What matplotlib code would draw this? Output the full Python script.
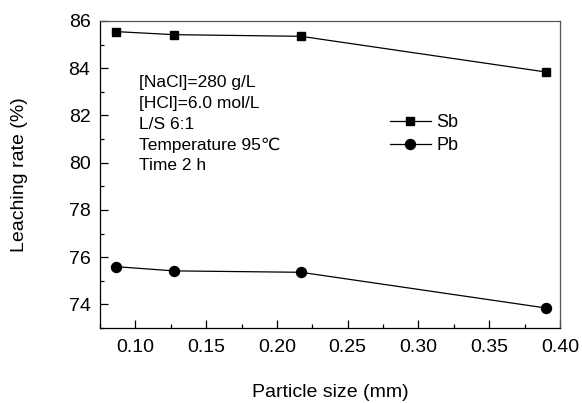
import matplotlib
matplotlib.use("Agg")
import matplotlib.pyplot as plt
from matplotlib.ticker import MultipleLocator

plt.rcParams['font.family'] = ['Liberation Sans', 'DejaVu Sans']

particle_size = [0.086, 0.127, 0.217, 0.390]
sb_rate = [85.55, 85.42, 85.35, 83.84]
pb_rate = [75.60, 75.42, 75.36, 73.85]
conditions = ["[NaCl]=280 g/L", "[HCl]=6.0 mol/L", "L/S 6:1", "Temperature 95\u2103", "Time 2 h"]

fig = plt.figure(figsize=(5.82, 4.03), dpi=100)
ax = fig.add_axes([0.172, 0.186, 0.79, 0.762])

ax.plot(particle_size, sb_rate, color='black', lw=0.9, marker='s', ms=6.2, label='Sb')
ax.plot(particle_size, pb_rate, color='black', lw=0.9, marker='o', ms=7.2, label='Pb')

ax.set_xlim(0.075, 0.40)
ax.set_ylim(73, 86)
ax.xaxis.set_major_locator(MultipleLocator(0.05))
ax.xaxis.set_minor_locator(MultipleLocator(0.025))
ax.yaxis.set_major_locator(MultipleLocator(2))
ax.yaxis.set_minor_locator(MultipleLocator(1))
ax.set_xticks([0.10, 0.15, 0.20, 0.25, 0.30, 0.35, 0.40])
ax.set_xticklabels(["0.10", "0.15", "0.20", "0.25", "0.30", "0.35", "0.40"])
ax.tick_params(which='both', direction='in', top=False, right=False, labelsize=14)
ax.tick_params(which='major', length=6, width=0.9)
ax.tick_params(which='minor', length=3, width=0.9)
ax.tick_params(axis='x', pad=8)
ax.tick_params(axis='y', pad=7)
for s in ax.spines.values():
    s.set_linewidth(0.9)
ax.spines['top'].set_color('#555555')
ax.spines['right'].set_color('#555555')

ax.set_xlabel("Particle size (mm)", fontsize=14, labelpad=20)
ax.set_ylabel("Leaching rate (%)", fontsize=14, labelpad=29)

ax.text(0.085, 0.823, "\n".join(conditions), transform=ax.transAxes, fontsize=12.5,
        va='top', ha='left', linespacing=1.47)

ax.legend(loc='upper left', bbox_to_anchor=(0.61, 0.725), frameon=False, fontsize=13,
          handlelength=2.3, handletextpad=0.3, labelspacing=0.3, borderpad=0)

fig.savefig("out.png", dpi=100)
